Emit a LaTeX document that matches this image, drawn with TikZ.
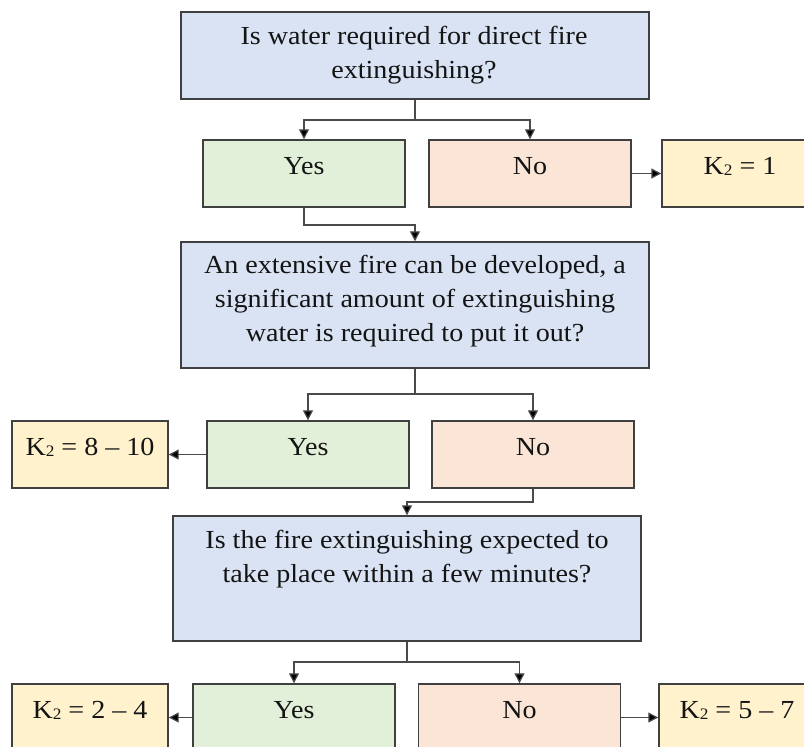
\documentclass[tikz,border=0pt]{standalone}
\usepackage{fontspec}
\setmainfont{Liberation Serif}[FakeStretch=1.08]
\usetikzlibrary{arrows.meta}

\definecolor{qblue}{HTML}{DAE3F3}
\definecolor{ygreen}{HTML}{E2F0D9}
\definecolor{nsalmon}{HTML}{FBE5D6}
\definecolor{kyellow}{HTML}{FFF2CC}
\definecolor{edge}{HTML}{404040}
\definecolor{wire}{HTML}{4A4A4A}
\definecolor{ink}{HTML}{141414}

% small index digit after K
\newcommand{\kidx}[1]{\raisebox{-0.6pt}{\fontsize{8}{8}\selectfont #1}}

\tikzset{
  txtfont/.style={font=\fontsize{13}{17}\selectfont, text=ink},
  question/.style={draw=edge, line width=0.7pt, fill=qblue, inner sep=0pt,
    minimum width=234pt},
  qtext/.style={txtfont, align=center, anchor=north, inner sep=0pt},
  answer/.style={draw=edge, line width=0.7pt, inner sep=0pt, txtfont,
    minimum height=33.5pt, text height=17pt, text depth=16.5pt},
  yesbox/.style={answer, fill=ygreen, minimum width=101pt},
  nobox/.style={answer, fill=nsalmon, minimum width=101pt},
  kbox/.style={answer, fill=kyellow, minimum width=78pt},
  link/.style={draw=wire, line width=0.6pt,
    -{Triangle[length=5pt,width=5pt,fill=black]}},
}

\begin{document}
\begin{tikzpicture}[x=0.5pt,y=-0.5pt]
  \useasboundingbox (0,0) rectangle (804,746);
  \clip (0,0) rectangle (804,746);

  % first question
  \node[question, minimum height=43.5pt] (q1) at (415,55.5) {};
  \node[qtext] (q1t) at (414,20.2)
    {\strut Is water required for direct fire\\extinguishing?};
  \node[yesbox] (y1) at (304,173.5) {Yes};
  \node[nobox]  (n1) at (530,173.5) {No};
  \node[kbox]   (k1) at (740,173.5) {K\kidx{2} = 1};

  % second question
  \node[question, minimum height=63pt] (q2) at (415,305) {};
  \node[qtext] (q2t) at (415,249.2)
    {\strut An extensive fire can be developed, a\\significant amount of extinguishing\\water is required to put it out?};
  \node[kbox]   (k2) at (90,454.5)  {K\kidx{2} = 8 -- 10};
  \node[yesbox] (y2) at (308,454.5) {Yes};
  \node[nobox]  (n2) at (533,454.5) {No};

  % third question
  \node[question, minimum height=62.5pt] (q3) at (407,578.5) {};
  \node[qtext] (q3t) at (407,524.2)
    {\strut Is the fire extinguishing expected to\\take place within a few minutes?};
  \node[kbox]   (k3a) at (90,717.5)  {K\kidx{2} = 2 -- 4};
  \node[yesbox] (y3)  at (294,717.5) {Yes};
  \node[nobox]  (n3)  at (519.5,717.5) {No};
  \node[kbox]   (k3b) at (737,717.5) {K\kidx{2} = 5 -- 7};

  % branching points
  \coordinate (j1) at (415,120);
  \coordinate (j2) at (304,225);
  \coordinate (j3) at (415,394);
  \coordinate (j4) at (533,502);
  \coordinate (j5) at (407,662);

  % connectors
  \draw[link] (q1.south) -- (j1) -| (y1.north);
  \draw[link] (j1) -| (n1.north);
  \draw[link] (n1.east) -- (k1.west);
  \draw[link] (y1.south) -- (j2) -| (q2.north);

  \draw[link] (q2.south) -- (j3) -| (y2.north);
  \draw[link] (j3) -| (n2.north);
  \draw[link] (y2.west) -- (k2.east);
  \draw[link] (n2.south) -- (j4) -| (q3.north);

  \draw[link] (q3.south) -- (j5) -| (y3.north);
  \draw[link] (j5) -| (n3.north);
  \draw[link] (y3.west) -- (k3a.east);
  \draw[link] (n3.east) -- (k3b.west);
\end{tikzpicture}
\end{document}
